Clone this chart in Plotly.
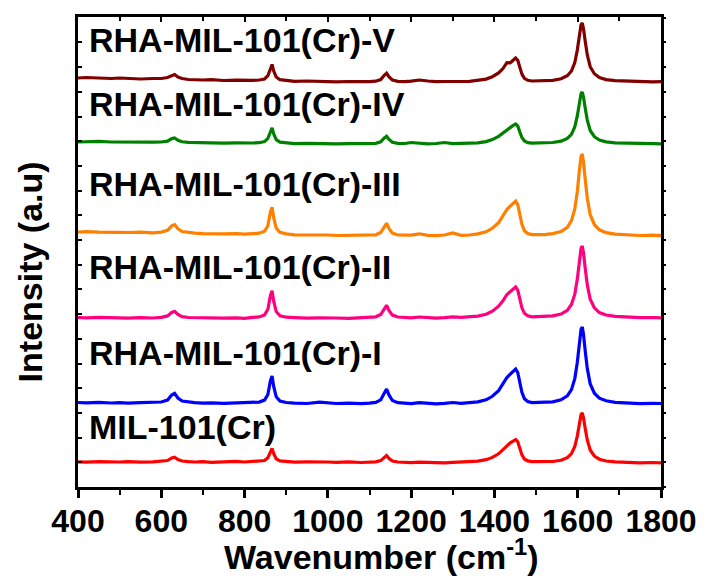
import plotly.graph_objects as go

wavenumber = [400, 420, 450, 480, 500, 520, 550, 580, 600, 615, 625, 632, 640, 650, 665, 680, 700, 720, 750, 780,
              800, 820, 835, 848, 856, 862, 866, 870, 876, 885, 900, 920, 950, 980, 1000, 1020, 1050, 1080, 1100, 1115,
              1127, 1135, 1141, 1147, 1155, 1168, 1185, 1200, 1220, 1240, 1260, 1280, 1300, 1320, 1340, 1360, 1380, 1395,
              1410, 1420, 1430, 1438, 1445, 1451, 1456, 1461, 1466, 1472, 1480, 1490, 1505, 1520, 1540, 1560, 1575, 1585,
              1593, 1599, 1604, 1608, 1611, 1614, 1618, 1623, 1630, 1640, 1652, 1668, 1690, 1720, 1750, 1780, 1800]

rha_v = [409, 409.5, 409, 408.5, 409, 408.5, 408, 408.5, 408.5, 409.5, 411.5, 412.5, 410, 408.5, 407.5, 407.2, 407, 407.3, 406.5, 406.8,
         406.5, 406.6, 407, 408, 411.3, 419.6, 422.5, 416, 410, 407.3, 406.3, 405.7, 406, 405.5, 405.6, 405.2, 405.5, 405, 405.4, 405.8,
         407.4, 411.5, 413.8, 410.1, 407, 405.7, 405.3, 405.8, 407, 406, 405.3, 405.5, 405.2, 405.5, 405.7, 406.4, 407.9, 410.3,
         414.1, 418.2, 424.4, 424.2, 427.1, 429, 426.6, 419.4, 412.9, 408.6, 406.7, 406, 406, 406, 406.7, 408.2, 411.2, 416,
         424.5, 436.9, 452.2, 462.2, 464, 458.1, 445.7, 432.1, 420.3, 413.3, 409.4, 407.4, 406.3, 405.7, 405.4, 405.2, 405.3]

rha_iv = [345, 345.3, 345.6, 345, 344.8, 345.2, 344.6, 344.8, 345, 345.9, 348.4, 349.1, 346.8, 345.2, 344.6, 344.4, 344.1, 344.5, 343.9, 344.2,
          343.8, 344, 344.3, 345.4, 348.6, 356.4, 359.1, 353, 347.3, 344.8, 344, 343.4, 343.7, 343.2, 343.5, 343.1, 343.4, 343, 343.3, 343.7,
          345.2, 348.8, 350.8, 347.6, 344.8, 343.6, 343.5, 344.5, 343.6, 343.2, 343.5, 344.5, 343.4, 343.4, 343.6, 344.2, 345.4, 347.4,
          350.6, 354, 357.5, 359.6, 361.6, 363, 361, 355, 349.6, 346, 344.4, 343.8, 343.9, 343.9, 344.5, 345.8, 348.5, 352.7,
          360.2, 371.1, 384.6, 393.4, 395, 389.8, 378.9, 366.9, 356.5, 350.3, 346.9, 345.1, 344.1, 343.6, 343.2, 343.4, 343.1]

rha_iii = [255, 255.3, 254.8, 255.2, 254.7, 254.5, 254.8, 254.2, 254.9, 256.6, 261.1, 262.4, 258.2, 255.5, 254.3, 253.9, 253.4, 253.6, 253.1, 253.3,
           252.9, 253.4, 253.8, 255.7, 261.3, 275, 279.8, 269, 258.9, 254.6, 253.1, 252.2, 252.3, 251.8, 252, 251.5, 251.7, 251.2, 251.5, 252.2,
           254.5, 260.4, 263.7, 258.4, 253.9, 252, 251.6, 251.8, 253.2, 251.7, 251.4, 252, 254, 251.7, 252, 253.1, 255.2, 258.7,
           264.3, 270.3, 277.5, 280.8, 283.6, 286, 282.5, 272, 262.6, 256.3, 253.5, 252.4, 252.5, 252.4, 253.4, 255.4, 259.6, 266.3,
           278.1, 295.3, 316.6, 330.5, 333, 324.8, 307.6, 288.7, 272.3, 262.5, 257.2, 254.4, 252.8, 252, 251.5, 251.8, 251.3]

rha_ii = [169.5, 169.2, 169.7, 169.1, 169.4, 168.9, 169.3, 169, 169.7, 171.1, 174.6, 175.7, 172.5, 170.4, 169.5, 169.3, 168.9, 169.2, 168.8, 169.1,
          168.7, 169.6, 170.1, 172.1, 177.7, 191.4, 196.2, 185.5, 175.4, 171.2, 169.8, 169.3, 168.8, 169.2, 168.7, 169, 168.6, 169, 169.5, 170.2,
          172.5, 178.4, 181.7, 176.4, 171.9, 170, 169.4, 169.1, 170, 169.2, 168.8, 169.3, 170.2, 169.6, 169.9, 170.9, 172.7, 175.8,
          180.8, 186, 192.5, 195.4, 197.8, 200, 196.9, 187.6, 179.2, 173.7, 171.2, 170.2, 170.3, 170.2, 171.1, 172.9, 176.6, 182.5,
          192.8, 207.9, 226.6, 238.8, 241, 233.8, 218.7, 202.1, 187.7, 179.1, 174.4, 172, 170.6, 169.8, 169.3, 169.5, 169.1]

rha_i = [84.5, 84.2, 84.7, 84, 84.4, 83.9, 84.3, 84.6, 85, 87, 92, 93.6, 89, 86, 84.8, 84.4, 83.9, 84.2, 83.7, 84,
         84.3, 84.4, 84.9, 86.9, 92.5, 106.2, 111, 100.3, 90.2, 85.9, 84.5, 83.9, 83.5, 84.8, 84.3, 83.5, 83.8, 83.3, 83.8, 84.6,
         87.2, 94, 97.9, 91.8, 86.5, 84.3, 83.6, 83.4, 84.3, 83.5, 83.2, 83.6, 84.5, 83.7, 84, 85.1, 87.2, 90.7,
         96.3, 102.3, 109.5, 112.8, 115.6, 118, 114.5, 104, 94.6, 88.3, 85.5, 84.4, 84.5, 84.3, 85.2, 87.2, 91.1, 97.4,
         108.4, 124.6, 144.6, 157.7, 160, 152.3, 136.1, 118.4, 103, 93.8, 88.8, 86.2, 84.7, 83.9, 83.4, 83.7, 83.5]

mil_101 = [25.2, 24.8, 25.3, 24.7, 25, 25.4, 24.8, 25.1, 25.5, 26.5, 29, 29.8, 27.5, 26, 25.4, 25, 25.3, 24.7, 25.1, 25.6,
           25, 25.3, 25.6, 26.5, 29.3, 36.2, 38.6, 33.3, 28.2, 26.1, 25.4, 24.9, 25.2, 24.6, 25, 24.7, 25.1, 24.5, 24.8, 25.1,
           26.4, 29.5, 31.4, 28.5, 26, 25, 24.8, 24.3, 24.9, 24.4, 24.7, 24.2, 24.6, 25, 25.2, 25.9, 27.3, 29.6,
           33.2, 37.2, 42, 44.1, 45.9, 47.5, 45.2, 38.3, 32.1, 28, 26.1, 25.4, 25.5, 24.9, 25.5, 26.7, 29.3, 33.4,
           40.5, 51, 64, 72.5, 74, 69, 58.5, 47, 37, 31, 27.8, 26, 25.1, 24.6, 24.2, 24.5, 24.1]

series_names = ["RHA-MIL-101(Cr)-V", "RHA-MIL-101(Cr)-IV", "RHA-MIL-101(Cr)-III",
                "RHA-MIL-101(Cr)-II", "RHA-MIL-101(Cr)-I", "MIL-101(Cr)"]
series_values = [rha_v, rha_iv, rha_iii, rha_ii, rha_i, mil_101]
series_colors = ["#800000", "#008000", "#FF8000", "#FF0080", "#0000FF", "#FF0000"]
label_y = [0.951, 0.814, 0.645, 0.468, 0.285, 0.128]

FONT = "Arial, Liberation Sans, sans-serif"

fig = go.Figure()
for name, vals, col in zip(series_names, series_values, series_colors):
    fig.add_trace(go.Scatter(x=wavenumber, y=vals, mode="lines", name=name,
                             line=dict(color=col, width=3.2), showlegend=False))

for name, ly in zip(series_names, label_y):
    fig.add_annotation(text=name, xref="paper", yref="paper", x=0.015, y=ly,
                       xanchor="left", yanchor="middle", showarrow=False,
                       font=dict(family=FONT, size=34, color="black", weight="bold"))

fig.add_annotation(text="Wavenumber (cm<sup>-1</sup>)", xref="paper", yref="paper",
                   x=0.52, y=-0.143, xanchor="center", yanchor="middle", showarrow=False,
                   font=dict(family=FONT, size=34, color="black", weight="bold"))
fig.add_annotation(text="Intensity (a.u)", xref="paper", yref="paper", textangle=-90,
                   x=-0.082, y=0.457, xanchor="center", yanchor="middle", showarrow=False,
                   font=dict(family=FONT, size=34, color="black", weight="bold"))

common_x = dict(range=[400, 1800], tick0=400, dtick=200, showgrid=False, zeroline=False,
                tickcolor="black", linecolor="black")
fig.update_layout(
    xaxis=dict(**common_x, ticks="outside", ticklen=8, tickwidth=3, showline=True, linewidth=3,
               mirror=True, ticklabelstandoff=-4,
               tickfont=dict(family=FONT, size=32, color="black", weight="bold"),
               minor=dict(dtick=100, ticks="outside", ticklen=5, tickwidth=2, tickcolor="black", showgrid=False)),
    xaxis2=dict(**common_x, overlaying="x", side="top", matches="x", ticks="inside", ticklen=5, tickwidth=2,
                showline=False, showticklabels=False,
                minor=dict(dtick=100, ticks="inside", ticklen=4, tickwidth=2, tickcolor="black", showgrid=False)),
    yaxis=dict(range=[0, 470], tick0=0, dtick=24.7, ticks="inside", ticklen=4, tickwidth=2,
               tickcolor="black", showline=True, linewidth=3, linecolor="black", mirror=True,
               showgrid=False, zeroline=False, showticklabels=False),
    yaxis2=dict(range=[0, 470], tick0=0, dtick=24.7, ticks="outside", ticklen=4, tickwidth=2,
                tickcolor="black", overlaying="y", side="right", matches="y", showline=False,
                showgrid=False, zeroline=False, showticklabels=False),
    width=709, height=583, margin=dict(l=78, r=44, t=17, b=96),
    plot_bgcolor="white", paper_bgcolor="white")

# invisible helper trace so the mirrored tick axes are drawn
fig.add_trace(go.Scatter(x=[wavenumber[0]], y=[mil_101[0]], xaxis="x2", yaxis="y2", mode="markers",
                         marker=dict(opacity=0), showlegend=False, hoverinfo="skip"))

fig.write_html("out.html")
